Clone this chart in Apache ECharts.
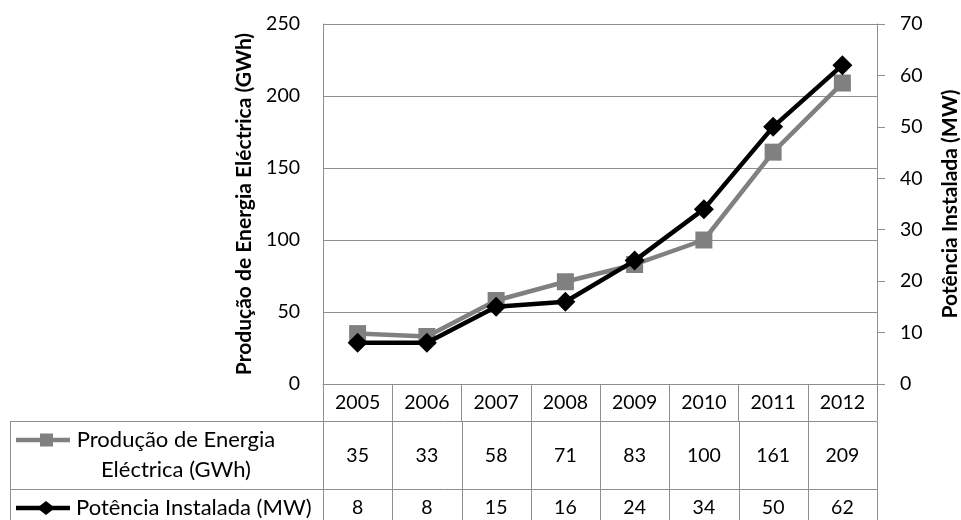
<!DOCTYPE html>
<html>
<head>
<meta charset="utf-8">
<script src="https://cdn.jsdelivr.net/npm/echarts@6/dist/echarts.min.js"></script>
<style>
html,body{margin:0;padding:0;background:#fff;}
#c{width:961px;height:520px;}
</style>
</head>
<body>
<div id="c"></div>
<script>
const years = ['2005','2006','2007','2008','2009','2010','2011','2012'];
const producao = [35,33,58,71,83,100,161,209];
const potencia = [8,8,15,16,24,34,50,62];
const producaoName = 'Produção de Energia Eléctrica (GWh)';
const potenciaName = 'Potência Instalada (MW)';
const producaoLegendLines = ['Produção de Energia','Eléctrica (GWh)'];
const leftAxisRange = [0, 250, 50];
const rightAxisRange = [0, 70, 10];

const FONT = 'Lato, "Open Sans", sans-serif';
const NUM = 19.5, TXT = 22, TITLE = 21;
const GRID = '#8f8f8f';
const chart = echarts.init(document.getElementById('c'), null, {renderer:'canvas'});

const option = {
  backgroundColor:'#fff',
  animation:false,
  textStyle:{fontFamily:FONT},
  grid:{left:323, right:84, top:24, bottom:136, containLabel:false, outerBoundsMode:'none'},
  xAxis:{
    type:'category', data:years, boundaryGap:true,
    axisLine:{show:true, lineStyle:{color:GRID, width:1}},
    axisTick:{show:true, interval:0, length:37, lineStyle:{color:GRID, width:1}},
    axisLabel:{color:'#000', fontSize:NUM, fontFamily:FONT, margin:9, lineHeight:20, interval:0},
    splitLine:{show:false}
  },
  yAxis:[{
    type:'value', position:'left', min:leftAxisRange[0], max:leftAxisRange[1], interval:leftAxisRange[2],
    name:producaoName, nameLocation:'middle', nameGap:66, nameRotate:90,
    nameTextStyle:{color:'#000', fontSize:TITLE, fontWeight:'bold', fontFamily:FONT},
    axisLine:{show:true, lineStyle:{color:GRID, width:1}},
    axisTick:{show:false},
    axisLabel:{color:'#000', fontSize:NUM, fontFamily:FONT, margin:23},
    splitLine:{show:true, lineStyle:{color:GRID, width:1}}
  },{
    type:'value', position:'right', min:rightAxisRange[0], max:rightAxisRange[1], interval:rightAxisRange[2],
    name:potenciaName, nameLocation:'middle', nameGap:63, nameRotate:90,
    nameTextStyle:{color:'#000', fontSize:TITLE, fontWeight:'bold', fontFamily:FONT},
    axisLine:{show:true, lineStyle:{color:GRID, width:1}},
    axisTick:{show:true, inside:false, length:8, lineStyle:{color:GRID, width:1}},
    axisLabel:{color:'#000', fontSize:NUM, fontFamily:FONT, margin:23},
    splitLine:{show:false}
  }],
  series:[{
    name:producaoName, type:'line', yAxisIndex:0, data:producao,
    symbol:'rect', symbolSize:17, showSymbol:true,
    lineStyle:{color:'#808080', width:4.5},
    itemStyle:{color:'#808080'}, z:2
  },{
    name:potenciaName, type:'line', yAxisIndex:1, data:potencia,
    symbol:'diamond', symbolSize:20, showSymbol:true,
    lineStyle:{color:'#000', width:4.5},
    itemStyle:{color:'#000'}, z:3
  }]
};
chart.setOption(option);

// Data table under the plot, positioned from the category axis scale
const xs = years.map((y,i)=>chart.convertToPixel({xAxisIndex:0}, i));
const half = (xs[1]-xs[0])/2;
const tableLeft = 10;
const tableRight = xs[xs.length-1]+half;
const rowTops = [421.5, 489.5];
const rowBottom = 527.5;
const row1Center = 456, row2Center = 508;
const g = [];
const lineStyle = {stroke:GRID, lineWidth:1};
rowTops.forEach(y=>g.push({type:'line', shape:{x1:tableLeft, y1:y, x2:tableRight, y2:y}, style:lineStyle, silent:true}));
g.push({type:'line', shape:{x1:tableLeft, y1:rowBottom, x2:tableRight, y2:rowBottom}, style:lineStyle, silent:true});
g.push({type:'line', shape:{x1:tableLeft+0.5, y1:rowTops[0], x2:tableLeft+0.5, y2:rowBottom}, style:lineStyle, silent:true});
for(let i=0;i<=years.length;i++){
  const x = Math.round(xs[0]-half + i*2*half)+0.5;
  g.push({type:'line', shape:{x1:x, y1:rowTops[0], x2:x, y2:rowBottom}, style:lineStyle, silent:true});
}
years.forEach((y,i)=>{
  g.push({type:'text', x:xs[i], y:row1Center, style:{text:String(producao[i]), fill:'#000', font:NUM+'px '+FONT, textAlign:'center', textVerticalAlign:'middle'}, silent:true});
  g.push({type:'text', x:xs[i], y:row2Center, style:{text:String(potencia[i]), fill:'#000', font:NUM+'px '+FONT, textAlign:'center', textVerticalAlign:'middle'}, silent:true});
});
// legend keys
const k1y = 440, k2y = row2Center;
g.push({type:'line', shape:{x1:16, y1:k1y, x2:70, y2:k1y}, style:{stroke:'#808080', lineWidth:4.5}, silent:true});
g.push({type:'rect', shape:{x:40, y:k1y-6.5, width:13, height:13}, style:{fill:'#808080'}, silent:true});
g.push({type:'line', shape:{x1:16, y1:k2y, x2:70, y2:k2y}, style:{stroke:'#000', lineWidth:4.5}, silent:true});
g.push({type:'polygon', shape:{points:[[46,k2y-7],[55,k2y],[46,k2y+7],[37,k2y]]}, style:{fill:'#000'}, silent:true});
g.push({type:'text', x:176, y:440, style:{text:producaoLegendLines[0], fill:'#000', font:TXT+'px '+FONT, textAlign:'center', textVerticalAlign:'middle'}, silent:true});
g.push({type:'text', x:176, y:470, style:{text:producaoLegendLines[1], fill:'#000', font:TXT+'px '+FONT, textAlign:'center', textVerticalAlign:'middle'}, silent:true});
g.push({type:'text', x:76, y:row2Center, style:{text:potenciaName, fill:'#000', font:TXT+'px '+FONT, textAlign:'left', textVerticalAlign:'middle'}, silent:true});
chart.setOption({graphic:{elements:g}});
</script>
</body>
</html>
